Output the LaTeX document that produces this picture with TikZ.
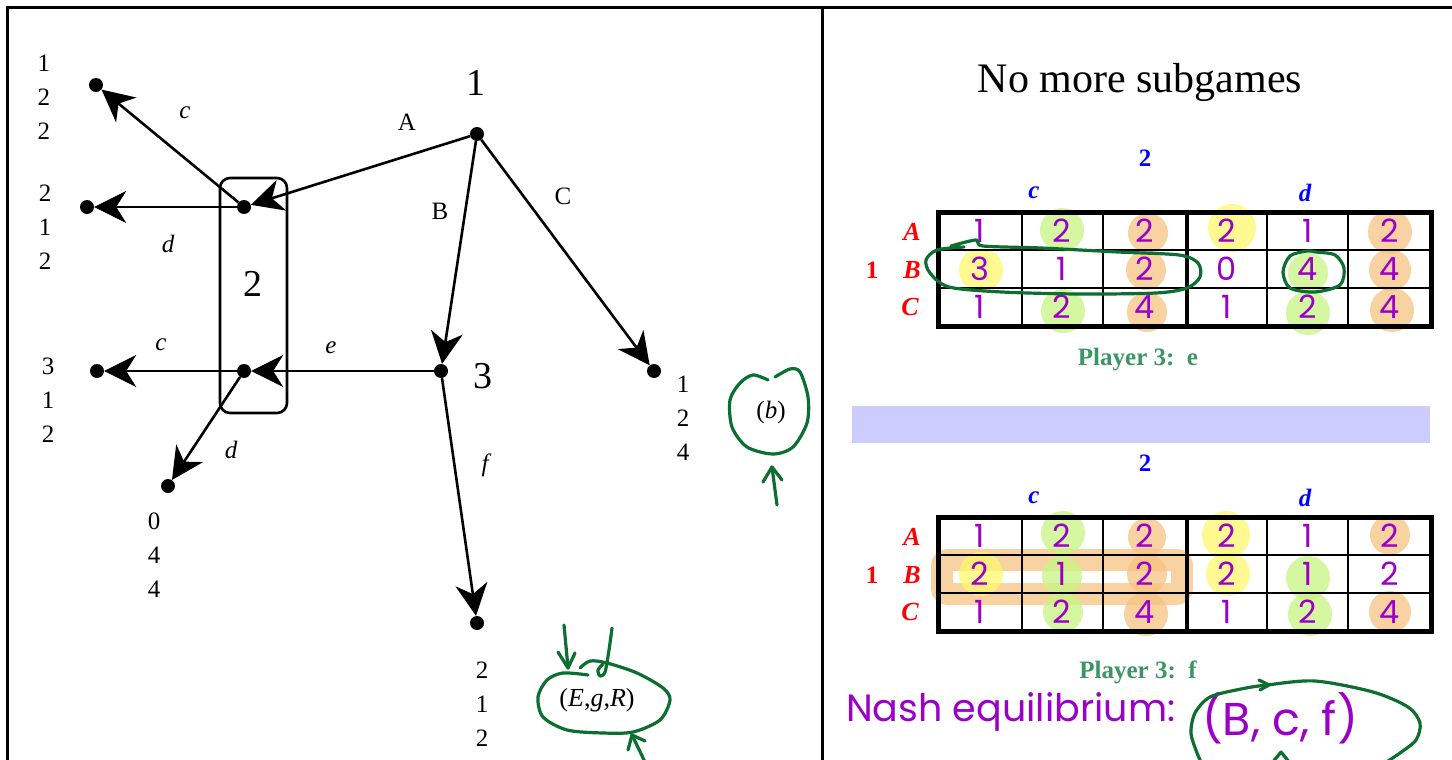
\documentclass[tikz,border=0pt]{standalone}
\usepackage{fontspec}
\setmainfont{Liberation Serif}
\newfontfamily\hand{Poppins}
\usetikzlibrary{arrows.meta}
\definecolor{hlgreen}{RGB}{200,245,130}
\definecolor{hlyellow}{RGB}{255,248,110}
\definecolor{hlorange}{RGB}{247,196,130}
\definecolor{inkpurple}{RGB}{155,0,200}
\definecolor{inkgreen}{RGB}{12,110,48}
\definecolor{pthree}{RGB}{60,150,100}
\definecolor{bandblue}{RGB}{204,204,255}
% grid, headings and row labels of one strategic-form table whose top edge is at y=#1
\newcommand\gamegrid[1]{%
  \node[colhead,font=\bfseries\fontsize{25}{28}\selectfont] at (1145,{#1-54}) {2};
  \node[colhead] at (1034,{#1-19}) {c};
  \node[colhead] at (1305,{#1-19}) {d};
  \node[rowlab] at (912,{#1+20}) {A};
  \node[rowlab] at (912,{#1+58}) {B};
  \node[rowlab] at (910,{#1+95}) {C};
  \node[rowlab,font=\bfseries\fontsize{25}{28}\selectfont] at (872,{#1+58}) {1};
  \foreach \gx in {1022,1103,1267,1348} \draw[line width=2.4pt] (\gx,#1) -- (\gx,{#1+114});
  \draw[line width=2.4pt] (938,{#1+38}) -- (1431,{#1+38});
  \draw[line width=2.4pt] (938,{#1+76}) -- (1431,{#1+76});
  \draw[line width=4pt] (1187,#1) -- (1187,{#1+114});
  \draw[line width=5pt] (938,#1) rectangle (1431,{#1+114});
}
\begin{document}
\begin{tikzpicture}[x=1pt,y=-1pt,
  dot/.style={circle,fill=black,inner sep=0pt,minimum size=14pt},
  move/.style={line width=2.6pt,-{Stealth[length=32pt,width=32pt,inset=10pt]}},
  payoff/.style={font=\fontsize{25}{34}\selectfont,align=center,inner sep=0pt},
  lab/.style={font=\fontsize{25}{28}\selectfont,inner sep=0pt},
  big/.style={font=\fontsize{38}{40}\selectfont,inner sep=0pt},
  cell/.style={font=\hand\fontsize{32}{33}\selectfont,text=inkpurple,inner sep=0pt},
  colhead/.style={font=\bfseries\itshape\fontsize{25}{28}\selectfont,text=blue,inner sep=0pt},
  rowlab/.style={font=\bfseries\itshape\fontsize{26}{28}\selectfont,text=red,inner sep=0pt},
  ptext/.style={font=\bfseries\fontsize{25}{28}\selectfont,text=pthree,inner sep=0pt},
  ink/.style={draw=inkgreen,line width=3.2pt,line cap=round,line join=round},
  hl/.style={opacity=0.75}]
\useasboundingbox (0,0) rectangle (1452,760);
\fill[white] (0,0) rectangle (1452,760);

% panel frame
\draw[line width=3pt] (6,8) -- (1452,8);
\draw[line width=3pt] (7,8) -- (7,760);
\draw[line width=3pt] (822,8) -- (822,760);

% ---------------- game tree ----------------
\node[dot] (n1)  at (477,134) {};
\node[dot] (n2u) at (244,207) {};
\node[dot] (n2l) at (244,371) {};
\node[dot] (n3)  at (441,371) {};
\node[dot] (tC)  at (654,371) {};
\node[dot] (tf)  at (477,623) {};
\node[dot] (tuc) at (96,85) {};
\node[dot] (tud) at (87,207) {};
\node[dot] (tlc) at (97,371) {};
\node[dot] (tld) at (168,486) {};

% information set of player 2
\draw[line width=2.6pt,rounded corners=10pt] (220,178) rectangle (287,413);

\draw[move] (n1) -- (n2u);
\draw[move] (n1) -- (n3);
\draw[move] (n1) -- (tC);
\draw[move] (n3) -- (n2l);
\draw[move] (n3) -- (tf);
\draw[move] (n2u) -- (tuc);
\draw[move] (n2u) -- (tud);
\draw[move] (n2l) -- (tlc);
\draw[move] (n2l) -- (tld);

% player labels
\node[big] (l1) at (476,83) {1};
\node[big] (l2) at (253,284) {2};
\node[big] (l3) at (483,376) {3};

% action labels
\node[lab] (aA) at (407,122) {A};
\node[lab] (aB) at (440,211) {B};
\node[lab] (aC) at (563,196) {C};
\node[lab] (ac1) at (185,113) {\itshape c};
\node[lab] (ad1) at (168,244) {\itshape d};
\node[lab] (ac2) at (161,345) {\itshape c};
\node[lab] (ae)  at (331,348) {\itshape e};
\node[lab] (ad2) at (231,450) {\itshape d};
\node[lab] (af)  at (485,465) {\itshape f};

% payoffs
\node[payoff] (puc) at (44,97)  {1\\2\\2};
\node[payoff] (pud) at (45,227) {2\\1\\2};
\node[payoff] (plc) at (48,400) {3\\1\\2};
\node[payoff] (pld) at (154,555) {0\\4\\4};
\node[payoff] (pC)  at (683,418) {1\\2\\4};
\node[payoff] (pf)  at (482,704) {2\\1\\2};

% part labels
\node[lab] (pb) at (771,412) {(\textit{b})};
\node[lab,font=\fontsize{26}{28}\selectfont] (pegr) at (597,700) {(\textit{E},\textit{g},\textit{R})};

% hand-drawn marks on the tree side
\draw[ink] plot[smooth] coordinates {(768,380) (753,375) (740,383) (730,400) (732,427) (747,447) (773,454) (793,447) (807,423) (808,397) (800,372) (790,369) (775,377)};
\draw[ink] (777,505) -- (772,467);
\draw[ink] (763,482) -- (772,467) -- (782,480);
\draw[ink] plot[smooth] coordinates {(588,675) (563,673) (547,680) (538,697) (543,717) (567,730) (603,733) (633,732) (660,720) (670,700) (663,688) (637,673) (607,663) (590,661) (580,668)};
\draw[ink] (564,625) -- (568,668);
\draw[ink] (558,652) -- (568,668) -- (575,653);
\draw[ink] plot[smooth] coordinates {(612,628) (609,650) (605,672) (600,676) (598,670) (603,664)};
\draw[ink] (645,762) -- (632,735);
\draw[ink] (628,750) -- (632,735) -- (645,741);

% ---------------- right panel ----------------
\node[font=\fontsize{42}{46}\selectfont,inner sep=0pt] (title) at (1140,82) {No more subgames};

% highlighter marks, first table
\fill[hlgreen,hl]  (1062,230) circle (22pt);
\fill[hlorange,hl] (1148,233) circle (20pt);
\fill[hlyellow,hl] (1232,228) circle (24pt);
\fill[hlorange,hl] (1390,232) circle (22pt);
\fill[hlyellow,hl] (981,270) circle (22pt);
\fill[hlorange,hl] (1146,270) circle (20pt);
\fill[hlgreen,hl]  (1308,273) circle (20pt);
\fill[hlorange,hl] (1390,270) circle (21pt);
\fill[hlgreen,hl]  (1063,311) circle (22pt);
\fill[hlorange,hl] (1147,312) circle (20pt);
\fill[hlgreen,hl]  (1308,313) circle (22pt);
\fill[hlorange,hl] (1392,310) circle (22pt);

\gamegrid{212}
\foreach \cx/\v in {980/1,1062/2,1145/2,1227/2,1308/1,1390/2} \node[cell] at (\cx,231) {\v};
\foreach \cx/\v in {980/3,1062/1,1145/2,1227/0,1308/4,1390/4} \node[cell] at (\cx,269) {\v};
\foreach \cx/\v in {980/1,1062/2,1145/4,1227/1,1308/2,1390/4} \node[cell] at (\cx,307) {\v};
\node[ptext] (p3e) at (1138,360) {Player 3:\ \ e};

\draw[ink] plot[smooth] coordinates {(951,246) (976,240) (983,246) (1041,248) (1118,252) (1179,255) (1198,263) (1200,277) (1187,288) (1156,293) (1079,294) (1002,292) (949,287) (930,273) (926,260) (937,250) (964,247)};
\draw[ink] plot[smooth cycle] coordinates {(1316,252) (1335,255) (1344,268) (1340,285) (1315,292) (1290,288) (1283,272) (1290,256) (1307,251)};

% separator band
\fill[bandblue] (852,406) rectangle (1430,443);

% highlighter marks, second table
\draw[hlorange,hl,line width=22pt,rounded corners=6pt] (942,560) rectangle (1182,594);
\fill[hlgreen,hl]  (1063,533) circle (22pt);
\fill[hlorange,hl] (1147,537) circle (19pt);
\fill[hlyellow,hl] (1226,535) circle (24pt);
\fill[hlorange,hl] (1390,535) circle (20pt);
\fill[hlyellow,hl] (981,574) circle (22pt);
\fill[hlgreen,hl]  (1062,576) circle (20pt);
\fill[hlorange,hl] (1147,574) circle (20pt);
\fill[hlyellow,hl] (1228,574) circle (22pt);
\fill[hlgreen,hl]  (1308,578) circle (22pt);
\fill[hlgreen,hl]  (1063,612) circle (20pt);
\fill[hlorange,hl] (1146,614) circle (22pt);
\fill[hlgreen,hl]  (1310,614) circle (22pt);
\fill[hlorange,hl] (1390,612) circle (21pt);

\gamegrid{517}
\foreach \cx/\v in {980/1,1062/2,1145/2,1227/2,1308/1,1390/2} \node[cell] at (\cx,536) {\v};
\foreach \cx/\v in {980/2,1062/1,1145/2,1227/2,1308/1,1390/2} \node[cell] at (\cx,574) {\v};
\foreach \cx/\v in {980/1,1062/2,1145/4,1227/1,1308/2,1390/4} \node[cell] at (\cx,612) {\v};
\node[ptext] (p3f) at (1138,672) {Player 3:\ \ f};

% handwritten conclusion
\node[font=\hand\fontsize{38}{40}\selectfont,text=inkpurple,anchor=west,inner sep=0pt] (nash) at (846,712) {Nash equilibrium:};
\node[font=\hand\fontsize{46}{48}\selectfont,text=inkpurple,inner sep=0pt] (bcf) at (1280,718) {(B, c, f)};
\draw[ink] plot[smooth] coordinates {(1203,766) (1197,753) (1191,733) (1195,713) (1210,697) (1241,689) (1267,685) (1315,681) (1373,692) (1408,707) (1420,723) (1416,740) (1400,753) (1385,763)};
\draw[ink] (1259,680) -- (1269,685) -- (1260,690);
\draw[ink] (1272,763) -- (1281,752) -- (1290,763);
\end{tikzpicture}
\end{document}
